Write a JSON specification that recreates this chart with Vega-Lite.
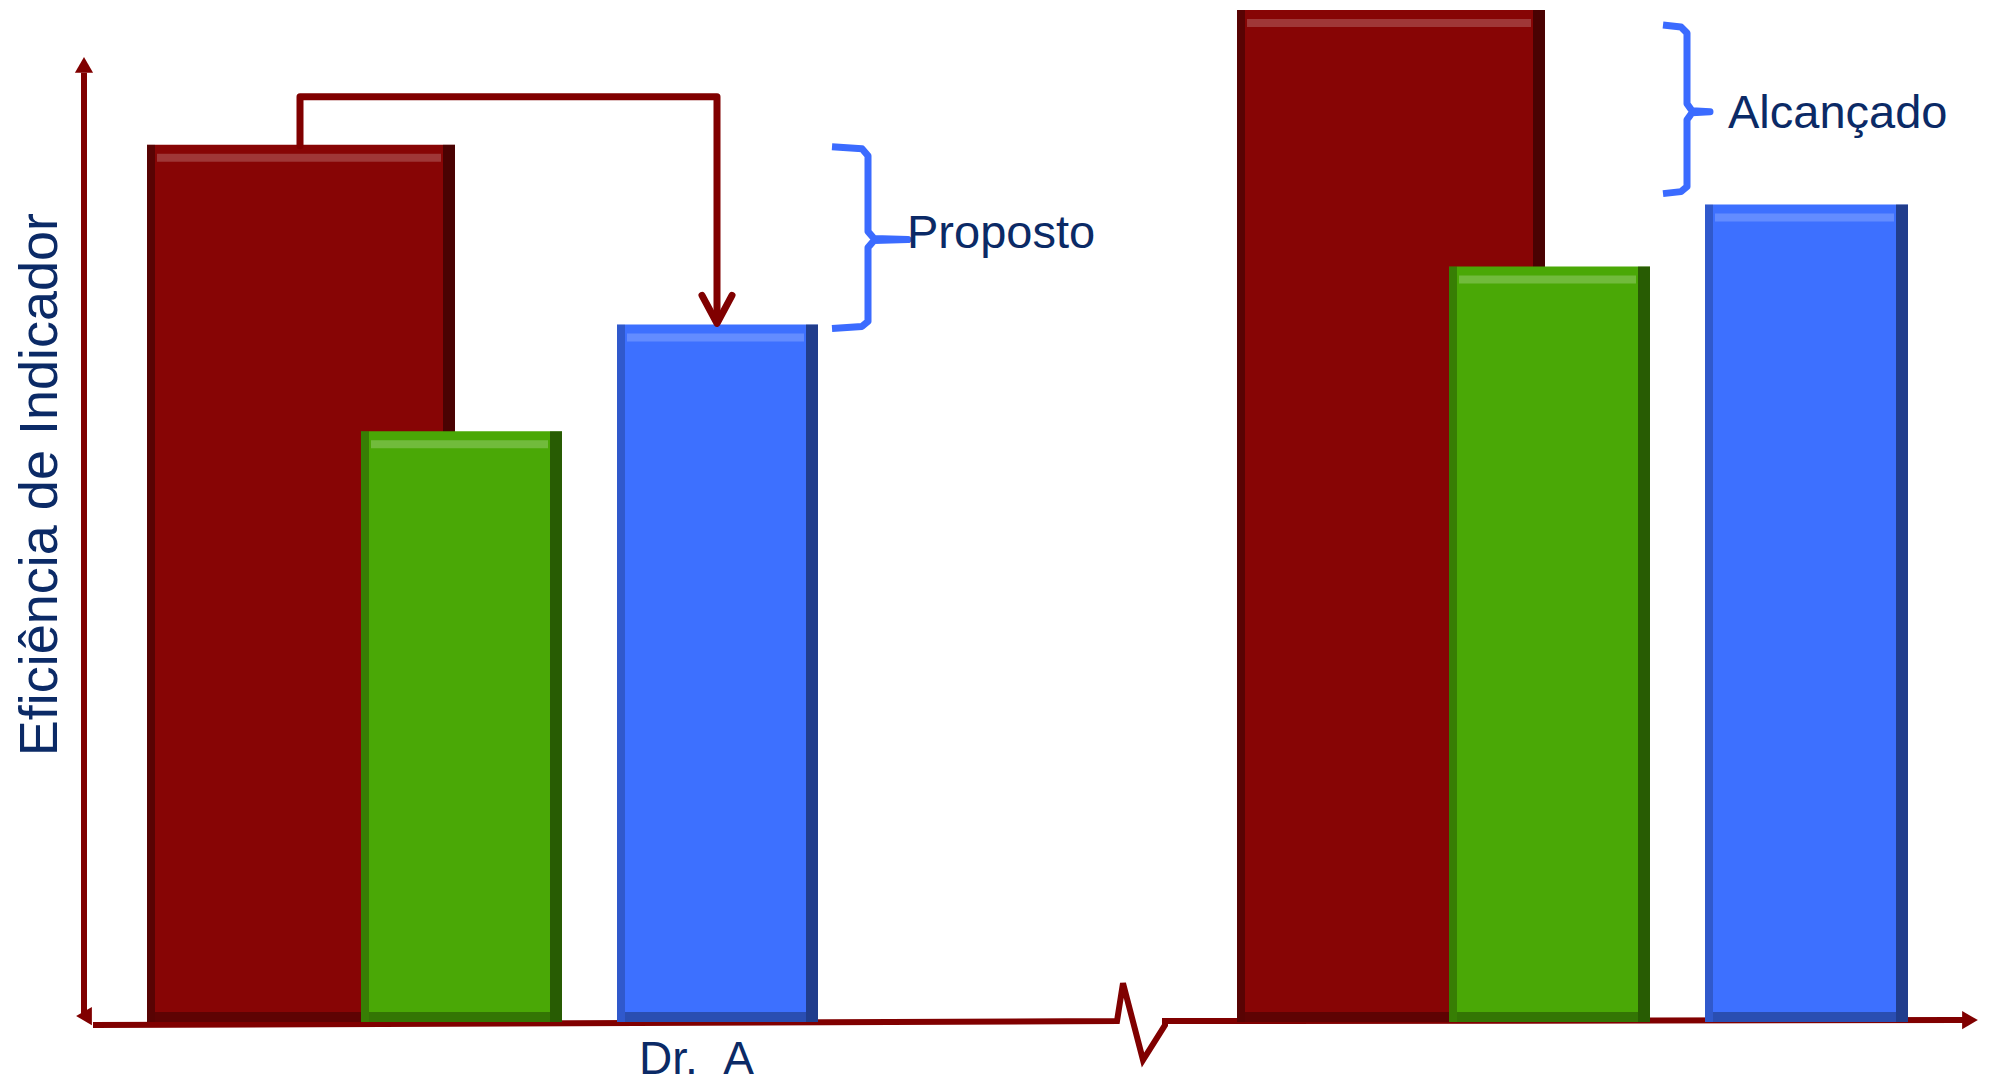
{
  "$schema": "https://vega.github.io/schema/vega-lite/v6.json",
  "width": 1989,
  "height": 1083,
  "autosize": {"type": "fit", "contains": "padding"},
  "padding": 0,
  "background": "white",
  "config": {"view": {"stroke": null}, "axis": {"disable": true}, "legend": {"disable": true}},
  "data": {
    "values": [
      {"kind": "bar", "grupo": "Dr. A", "serie": "S1", "start": 14.7, "end": 45.5, "base": 0, "value": 87.9},
      {"kind": "bar", "grupo": "Dr. A", "serie": "S2", "start": 36.1, "end": 56.2, "base": 0, "value": 59.2},
      {"kind": "bar", "grupo": "Dr. A", "serie": "S3", "start": 61.7, "end": 81.8, "base": 0, "value": 69.9},
      {"kind": "bar", "grupo": "Depois", "serie": "S1", "start": 123.7, "end": 154.5, "base": 0, "value": 101.4},
      {"kind": "bar", "grupo": "Depois", "serie": "S2", "start": 144.9, "end": 165.0, "base": 0, "value": 75.7},
      {"kind": "bar", "grupo": "Depois", "serie": "S3", "start": 170.5, "end": 190.8, "base": 0, "value": 81.9},
      {"kind": "axis", "path": "yaxis", "o": 1, "x": 8.4, "y": 0.3},
      {"kind": "axis", "path": "yaxis", "o": 2, "x": 8.4, "y": 95.1},
      {"kind": "axis", "path": "xaxis", "o": 1, "x": 9.3, "y": -0.3},
      {"kind": "axis", "path": "xaxis", "o": 2, "x": 111.7, "y": 0.1},
      {"kind": "axis", "path": "xaxis", "o": 3, "x": 112.3, "y": 3.9},
      {"kind": "axis", "path": "xaxis", "o": 4, "x": 114.3, "y": -3.8},
      {"kind": "axis", "path": "xaxis", "o": 5, "x": 116.5, "y": -0.3},
      {"kind": "axis", "path": "xaxis", "o": 6, "x": 116.5, "y": 0.1},
      {"kind": "axis", "path": "xaxis", "o": 7, "x": 196.3, "y": 0.2},
      {"kind": "connector", "path": "conector", "o": 1, "x": 30.0, "y": 87.8},
      {"kind": "connector", "path": "conector", "o": 2, "x": 30.0, "y": 92.7},
      {"kind": "connector", "path": "conector", "o": 3, "x": 71.7, "y": 92.7},
      {"kind": "connector", "path": "conector", "o": 4, "x": 71.7, "y": 70.3},
      {"kind": "connector", "path": "seta", "o": 1, "x": 70.2, "y": 72.8},
      {"kind": "connector", "path": "seta", "o": 2, "x": 71.7, "y": 70.0},
      {"kind": "connector", "path": "seta", "o": 3, "x": 73.2, "y": 72.8},
      {"kind": "brace", "path": "proposto", "o": 1, "x": 83.2, "y": 87.7},
      {"kind": "brace", "path": "proposto", "o": 2, "x": 86.2, "y": 87.5},
      {"kind": "brace", "path": "proposto", "o": 3, "x": 86.8, "y": 86.8},
      {"kind": "brace", "path": "proposto", "o": 4, "x": 86.8, "y": 79.2},
      {"kind": "brace", "path": "proposto", "o": 5, "x": 87.4, "y": 78.5},
      {"kind": "brace", "path": "proposto", "o": 6, "x": 90.8, "y": 78.4},
      {"kind": "brace", "path": "proposto", "o": 7, "x": 87.4, "y": 78.3},
      {"kind": "brace", "path": "proposto", "o": 8, "x": 86.8, "y": 77.6},
      {"kind": "brace", "path": "proposto", "o": 9, "x": 86.8, "y": 70.2},
      {"kind": "brace", "path": "proposto", "o": 10, "x": 86.2, "y": 69.7},
      {"kind": "brace", "path": "proposto", "o": 11, "x": 83.2, "y": 69.5},
      {"kind": "brace", "path": "alcancado", "o": 1, "x": 166.3, "y": 99.9},
      {"kind": "brace", "path": "alcancado", "o": 2, "x": 168.1, "y": 99.7},
      {"kind": "brace", "path": "alcancado", "o": 3, "x": 168.7, "y": 99.1},
      {"kind": "brace", "path": "alcancado", "o": 4, "x": 168.7, "y": 92.0},
      {"kind": "brace", "path": "alcancado", "o": 5, "x": 169.2, "y": 91.3},
      {"kind": "brace", "path": "alcancado", "o": 6, "x": 171.0, "y": 91.2},
      {"kind": "brace", "path": "alcancado", "o": 7, "x": 169.2, "y": 91.1},
      {"kind": "brace", "path": "alcancado", "o": 8, "x": 168.7, "y": 90.4},
      {"kind": "brace", "path": "alcancado", "o": 9, "x": 168.7, "y": 83.7},
      {"kind": "brace", "path": "alcancado", "o": 10, "x": 168.1, "y": 83.2},
      {"kind": "brace", "path": "alcancado", "o": 11, "x": 166.3, "y": 83.0},
      {"kind": "head", "dir": "up", "x": 8.4, "y": 95.9},
      {"kind": "head", "dir": "right", "x": 197.0, "y": 0.2},
      {"kind": "head", "dir": "down", "x": 8.4, "y": 0.6},
      {"kind": "label", "text": "Proposto", "x": 90.7, "y": 77.6},
      {"kind": "label", "text": "Alcançado", "x": 172.8, "y": 89.6},
      {"kind": "category", "text": "Dr.\u00a0\u00a0A", "x": 69.65, "y": -5.2},
      {"kind": "title", "text": "Eficiência de Indicador", "x": 5.7, "y": 53.85}
    ]
  },
  "layer": [
    {
      "transform": [{"filter": "datum.kind == 'axis'"}],
      "mark": {"type": "line", "color": "#800000", "strokeWidth": 6, "strokeJoin": "miter", "strokeCap": "butt"},
      "encoding": {
        "x": {"field": "x", "type": "quantitative", "scale": {"domain": [0, 198.9], "nice": false, "zero": false}},
        "y": {"field": "y", "type": "quantitative", "scale": {"domain": [-5.9, 102.4], "nice": false, "zero": false}},
        "detail": {"field": "path", "type": "nominal"},
        "order": {"field": "o", "type": "quantitative"}
      }
    },
    {
      "transform": [{"filter": "datum.kind == 'head'"}],
      "mark": {"type": "point", "filled": true, "color": "#800000", "opacity": 1, "size": 330},
      "encoding": {
        "x": {"field": "x", "type": "quantitative"},
        "y": {"field": "y", "type": "quantitative"},
        "shape": {"field": "dir", "type": "nominal", "scale": {"domain": ["up", "right", "down"], "range": ["triangle-up", "triangle-right", "triangle-left"]}}
      }
    },
    {
      "transform": [{"filter": "datum.kind == 'bar' && datum.serie == 'S1'"}],
      "mark": {"type": "rect"},
      "encoding": {
        "x": {"field": "start", "type": "quantitative"},
        "x2": {"field": "end"},
        "y": {"field": "value", "type": "quantitative"},
        "y2": {"field": "base"},
        "color": {"field": "serie", "type": "nominal", "scale": {"domain": ["S1", "S2", "S3"], "range": ["#870505", "#4aa806", "#3d70ff"]}}
      }
    },
    {
      "transform": [{"filter": "datum.kind == 'bar' && datum.serie == 'S1'"}],
      "mark": {"type": "rect", "color": "black", "opacity": 0.35, "x2Offset": 8},
      "encoding": {"x": {"field": "start", "type": "quantitative"}, "x2": {"field": "start"}, "y": {"field": "value", "type": "quantitative"}, "y2": {"field": "base"}}
    },
    {
      "transform": [{"filter": "datum.kind == 'bar' && datum.serie == 'S1'"}],
      "mark": {"type": "rect", "color": "black", "opacity": 0.45, "xOffset": -12},
      "encoding": {"x": {"field": "end", "type": "quantitative"}, "x2": {"field": "end"}, "y": {"field": "value", "type": "quantitative"}, "y2": {"field": "base"}}
    },
    {
      "transform": [{"filter": "datum.kind == 'bar' && datum.serie == 'S1'"}],
      "mark": {"type": "rect", "color": "black", "opacity": 0.3, "yOffset": -10, "xOffset": 8, "x2Offset": -12},
      "encoding": {"x": {"field": "start", "type": "quantitative"}, "x2": {"field": "end"}, "y": {"field": "base", "type": "quantitative"}, "y2": {"field": "base"}}
    },
    {
      "transform": [{"filter": "datum.kind == 'bar' && datum.serie == 'S1'"}],
      "mark": {"type": "rect", "color": "white", "opacity": 0.2, "yOffset": 9, "y2Offset": 17, "xOffset": 10, "x2Offset": -14},
      "encoding": {"x": {"field": "start", "type": "quantitative"}, "x2": {"field": "end"}, "y": {"field": "value", "type": "quantitative"}, "y2": {"field": "value"}}
    },
    {
      "transform": [{"filter": "datum.kind == 'bar' && datum.serie == 'S2'"}],
      "mark": {"type": "rect"},
      "encoding": {
        "x": {"field": "start", "type": "quantitative"},
        "x2": {"field": "end"},
        "y": {"field": "value", "type": "quantitative"},
        "y2": {"field": "base"},
        "color": {"field": "serie", "type": "nominal", "scale": {"domain": ["S1", "S2", "S3"], "range": ["#870505", "#4aa806", "#3d70ff"]}}
      }
    },
    {
      "transform": [{"filter": "datum.kind == 'bar' && datum.serie == 'S2'"}],
      "mark": {"type": "rect", "color": "black", "opacity": 0.25, "x2Offset": 8},
      "encoding": {"x": {"field": "start", "type": "quantitative"}, "x2": {"field": "start"}, "y": {"field": "value", "type": "quantitative"}, "y2": {"field": "base"}}
    },
    {
      "transform": [{"filter": "datum.kind == 'bar' && datum.serie == 'S2'"}],
      "mark": {"type": "rect", "color": "black", "opacity": 0.45, "xOffset": -12},
      "encoding": {"x": {"field": "end", "type": "quantitative"}, "x2": {"field": "end"}, "y": {"field": "value", "type": "quantitative"}, "y2": {"field": "base"}}
    },
    {
      "transform": [{"filter": "datum.kind == 'bar' && datum.serie == 'S2'"}],
      "mark": {"type": "rect", "color": "black", "opacity": 0.3, "yOffset": -10, "xOffset": 8, "x2Offset": -12},
      "encoding": {"x": {"field": "start", "type": "quantitative"}, "x2": {"field": "end"}, "y": {"field": "base", "type": "quantitative"}, "y2": {"field": "base"}}
    },
    {
      "transform": [{"filter": "datum.kind == 'bar' && datum.serie == 'S2'"}],
      "mark": {"type": "rect", "color": "white", "opacity": 0.22, "yOffset": 9, "y2Offset": 17, "xOffset": 10, "x2Offset": -14},
      "encoding": {"x": {"field": "start", "type": "quantitative"}, "x2": {"field": "end"}, "y": {"field": "value", "type": "quantitative"}, "y2": {"field": "value"}}
    },
    {
      "transform": [{"filter": "datum.kind == 'bar' && datum.serie == 'S3'"}],
      "mark": {"type": "rect"},
      "encoding": {
        "x": {"field": "start", "type": "quantitative"},
        "x2": {"field": "end"},
        "y": {"field": "value", "type": "quantitative"},
        "y2": {"field": "base"},
        "color": {"field": "serie", "type": "nominal", "scale": {"domain": ["S1", "S2", "S3"], "range": ["#870505", "#4aa806", "#3d70ff"]}}
      }
    },
    {
      "transform": [{"filter": "datum.kind == 'bar' && datum.serie == 'S3'"}],
      "mark": {"type": "rect", "color": "black", "opacity": 0.2, "x2Offset": 8},
      "encoding": {"x": {"field": "start", "type": "quantitative"}, "x2": {"field": "start"}, "y": {"field": "value", "type": "quantitative"}, "y2": {"field": "base"}}
    },
    {
      "transform": [{"filter": "datum.kind == 'bar' && datum.serie == 'S3'"}],
      "mark": {"type": "rect", "color": "black", "opacity": 0.45, "xOffset": -12},
      "encoding": {"x": {"field": "end", "type": "quantitative"}, "x2": {"field": "end"}, "y": {"field": "value", "type": "quantitative"}, "y2": {"field": "base"}}
    },
    {
      "transform": [{"filter": "datum.kind == 'bar' && datum.serie == 'S3'"}],
      "mark": {"type": "rect", "color": "black", "opacity": 0.3, "yOffset": -10, "xOffset": 8, "x2Offset": -12},
      "encoding": {"x": {"field": "start", "type": "quantitative"}, "x2": {"field": "end"}, "y": {"field": "base", "type": "quantitative"}, "y2": {"field": "base"}}
    },
    {
      "transform": [{"filter": "datum.kind == 'bar' && datum.serie == 'S3'"}],
      "mark": {"type": "rect", "color": "white", "opacity": 0.2, "yOffset": 9, "y2Offset": 17, "xOffset": 10, "x2Offset": -14},
      "encoding": {"x": {"field": "start", "type": "quantitative"}, "x2": {"field": "end"}, "y": {"field": "value", "type": "quantitative"}, "y2": {"field": "value"}}
    },
    {
      "transform": [{"filter": "datum.kind == 'connector'"}],
      "mark": {"type": "line", "color": "#800000", "strokeWidth": 7, "strokeJoin": "round", "strokeCap": "round"},
      "encoding": {
        "x": {"field": "x", "type": "quantitative"},
        "y": {"field": "y", "type": "quantitative"},
        "detail": {"field": "path", "type": "nominal"},
        "order": {"field": "o", "type": "quantitative"}
      }
    },
    {
      "transform": [{"filter": "datum.kind == 'brace'"}],
      "mark": {"type": "line", "color": "#3b6bff", "strokeWidth": 7, "strokeJoin": "round", "strokeCap": "butt"},
      "encoding": {
        "x": {"field": "x", "type": "quantitative"},
        "y": {"field": "y", "type": "quantitative"},
        "detail": {"field": "path", "type": "nominal"},
        "order": {"field": "o", "type": "quantitative"}
      }
    },
    {
      "transform": [{"filter": "datum.kind == 'label'"}],
      "mark": {"type": "text", "align": "left", "baseline": "alphabetic", "font": "Liberation Sans", "fontSize": 47, "color": "#0b2a66"},
      "encoding": {
        "x": {"field": "x", "type": "quantitative"},
        "y": {"field": "y", "type": "quantitative"},
        "text": {"field": "text", "type": "nominal"}
      }
    },
    {
      "transform": [{"filter": "datum.kind == 'category'"}],
      "mark": {"type": "text", "align": "center", "baseline": "alphabetic", "font": "Liberation Sans", "fontSize": 46, "color": "#0b2a66"},
      "encoding": {
        "x": {"field": "x", "type": "quantitative"},
        "y": {"field": "y", "type": "quantitative"},
        "text": {"field": "text", "type": "nominal"}
      }
    },
    {
      "transform": [{"filter": "datum.kind == 'title'"}],
      "mark": {"type": "text", "align": "center", "baseline": "alphabetic", "angle": 270, "font": "Liberation Sans", "fontSize": 54, "color": "#0b2a66"},
      "encoding": {
        "x": {"field": "x", "type": "quantitative"},
        "y": {"field": "y", "type": "quantitative"},
        "text": {"field": "text", "type": "nominal"}
      }
    }
  ]
}
